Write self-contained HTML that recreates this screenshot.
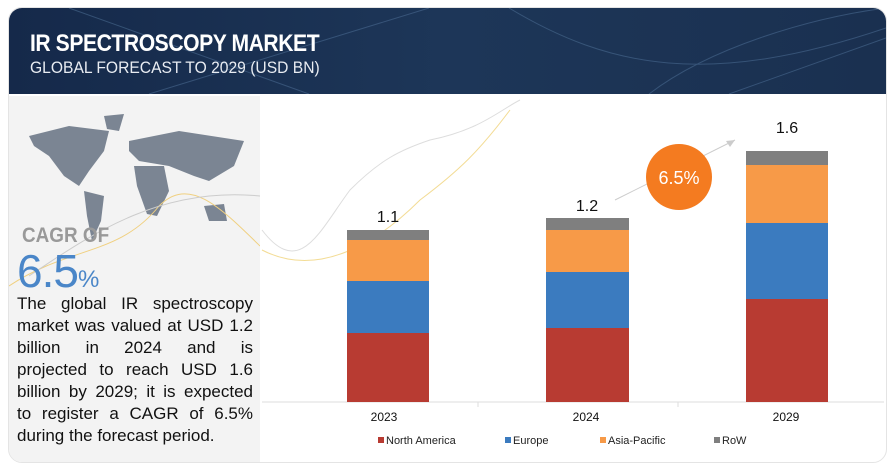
<!DOCTYPE html>
<html><head><style>
body{margin:0;width:890px;height:468px;background:#fff;position:relative;overflow:hidden;font-family:"Liberation Sans",sans-serif}
.card{position:absolute;left:8px;top:7px;width:877px;height:454px;border:1px solid #e4e4e4;border-radius:14px;overflow:hidden;background:#fff}
.hdr{position:absolute;left:0;top:0;width:877px;height:86px;background:linear-gradient(90deg,#15294a,#1d3658 50%,#1a3050);}
.t1{position:absolute;left:21px;top:22px;color:#fff;font-weight:bold;font-size:24px;letter-spacing:-0.5px;transform:scaleX(0.88);transform-origin:left}
.t2{position:absolute;left:21px;top:50px;color:#e8ecf2;font-size:17px;transform:scaleX(0.92);transform-origin:left}
.left{position:absolute;left:0;top:88px;width:251px;height:366px;background:#f3f3f3}
.txt{position:absolute;left:8px;top:197px;width:236px;font-size:17px;line-height:22px;color:#111}
.txt div{text-align:justify;text-align-last:justify;white-space:nowrap;height:22px}
.txt div.l{text-align-last:left}
</style></head><body>
<div class="card">
<div class="hdr">
<svg width="877" height="86" style="position:absolute;left:0;top:0"><g stroke="#4a6a90" stroke-width="1" fill="none" opacity="0.6"><path d="M60 0 L300 86"/><path d="M140 86 L420 0"/><path d="M500 0 C600 60 700 80 877 20"/><path d="M640 86 C700 40 800 10 877 0"/><path d="M720 86 L877 30"/></g></svg>
<div class="t1">IR SPECTROSCOPY MARKET</div>
<div class="t2">GLOBAL FORECAST TO 2029 (USD BN)</div>
</div>
<div class="left">
<svg width="251" height="160" style="position:absolute;left:0;top:0"><g fill="#7b8593"><path d="M20 40 L60 30 L100 35 L95 55 L80 75 L70 90 L55 80 L40 60 L25 50Z"/><path d="M95 20 L115 18 L110 35 L98 33Z"/><path d="M75 95 L95 100 L92 125 L83 145 L78 120Z"/><path d="M120 45 L170 35 L235 45 L225 70 L200 85 L185 80 L160 70 L130 65 L120 55Z"/><path d="M125 70 L155 70 L160 95 L148 120 L138 118 L128 90Z"/><path d="M195 110 L215 108 L218 125 L200 125Z"/></g></svg>
<svg width="251" height="366" style="position:absolute;left:0;top:0"><path d="M0 190 C60 150 110 160 150 110 C180 80 210 110 251 150" stroke="#f0d080" fill="none"/><path d="M20 180 C80 140 150 90 251 100" stroke="#ccc" fill="none"/></svg>
<div style="position:absolute;left:13px;top:128px;font-size:21px;font-weight:bold;color:#999;transform:scaleX(0.9);transform-origin:left">CAGR OF</div>
<div style="position:absolute;left:8px;top:148px;font-size:46px;color:#4a86c8;letter-spacing:-1px">6.5<span style="font-size:24px">%</span></div>
<div class="txt">
<div>The global IR spectroscopy</div>
<div>market was valued at USD 1.2</div>
<div>billion in 2024 and is</div>
<div>projected to reach USD 1.6</div>
<div>billion by 2029; it is expected</div>
<div>to register a CAGR of 6.5%</div>
<div class="l">during the forecast period.</div>
</div>
</div>
</div>
<svg width="890" height="468" style="position:absolute;left:0;top:0">
<path d="M262 230 C300 280 320 230 350 190 C380 160 400 150 430 140 C480 130 500 110 520 100" stroke="#ddd" fill="none"/>
<path d="M262 250 C320 280 380 240 420 200 C460 170 480 150 510 110" stroke="#f3dc95" fill="none"/>
<line x1="262" y1="402" x2="884" y2="402" stroke="#ddd"/>
<line x1="478" y1="402" x2="478" y2="407" stroke="#ddd"/><line x1="678" y1="402" x2="678" y2="407" stroke="#ddd"/>
<rect x="347" y="230" width="82" height="10" fill="#7f7f7f"/><rect x="347" y="240" width="82" height="41" fill="#f79a48"/><rect x="347" y="281" width="82" height="52" fill="#3b7bbf"/><rect x="347" y="333" width="82" height="69" fill="#b83b32"/>
<rect x="546" y="218" width="83" height="12" fill="#7f7f7f"/><rect x="546" y="230" width="83" height="42" fill="#f79a48"/><rect x="546" y="272" width="83" height="56" fill="#3b7bbf"/><rect x="546" y="328" width="83" height="74" fill="#b83b32"/>
<rect x="746" y="151" width="82" height="14" fill="#7f7f7f"/><rect x="746" y="165" width="82" height="58" fill="#f79a48"/><rect x="746" y="223" width="82" height="76" fill="#3b7bbf"/><rect x="746" y="299" width="82" height="103" fill="#b83b32"/>
<g font-family="Liberation Sans" fill="#111" text-anchor="middle" font-size="16"><text x="388" y="222">1.1</text><text x="587" y="211">1.2</text><text x="787" y="133">1.6</text></g>
<line x1="615" y1="200" x2="735" y2="140" stroke="#ccc"/><path d="M735 140 l-9 1 l4 6z" fill="#ccc"/>
<circle cx="679" cy="177" r="33" fill="#f47b20"/>
<text x="679" y="184" font-family="Liberation Sans" font-size="18" fill="#fff" text-anchor="middle">6.5%</text>
<g font-family="Liberation Sans" font-size="12" fill="#111" text-anchor="middle"><text x="384" y="421">2023</text><text x="586" y="421">2024</text><text x="786" y="421">2029</text></g>
<g font-family="Liberation Sans" font-size="11" fill="#222"><rect x="378" y="437" width="6" height="6" fill="#b83b32"/><text x="386" y="444">North America</text><rect x="505" y="437" width="6" height="6" fill="#3b7bbf"/><text x="513" y="444">Europe</text><rect x="600" y="437" width="6" height="6" fill="#f79a48"/><text x="608" y="444">Asia-Pacific</text><rect x="714" y="437" width="6" height="6" fill="#7f7f7f"/><text x="722" y="444">RoW</text></g>
</svg>
</body></html>
